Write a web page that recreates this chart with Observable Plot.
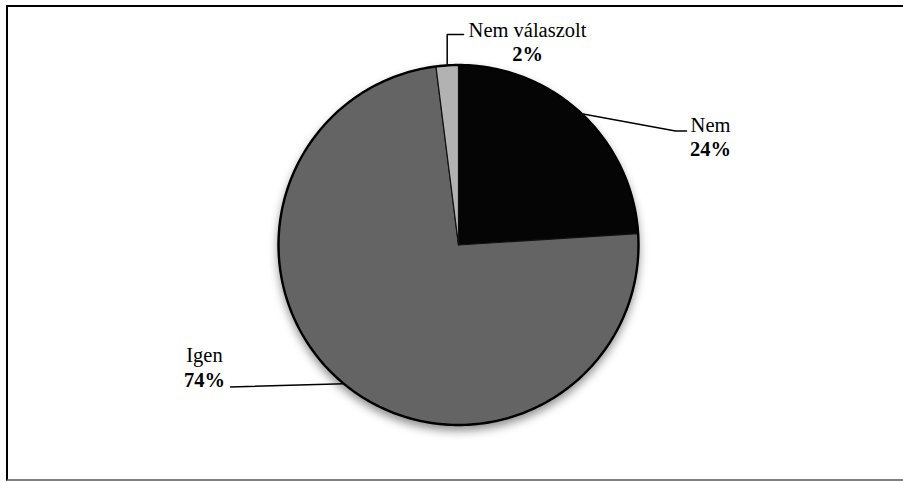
<!DOCTYPE html>
<html><head><meta charset="utf-8">
<script src="https://cdn.jsdelivr.net/npm/d3@7"></script>
<script src="https://cdn.jsdelivr.net/npm/@observablehq/plot@0.6"></script>
<style>
body{margin:0;background:#fff;}
#wrap{position:relative;width:903px;height:482px;overflow:hidden;}
#border{position:absolute;left:6px;top:5px;width:910px;height:472px;border-top:2px solid #000;border-left:2px solid #000;border-bottom:2px solid #808080;pointer-events:none;}
svg text{font-family:"Liberation Serif","Times New Roman","DejaVu Serif",serif !important;}
</style></head><body>
<div id="wrap"><div id="chart"></div><div id="border"></div></div>
<script>
// ---- data ----
const categories = ["Nem", "Igen", "Nem válaszolt"];
const values = [24, 74, 2];
const percentLabels = ["24%", "74%", "2%"];
const colors = ["#050505", "#646464", "#b2b2b2"];

// ---- layout ----
const W = 903, H = 482, cx = 458, cy = 244.5, R = 180;
const toU = (px, py) => ({x: (px - cx) / R, y: (cy - py) / R});

const arcs = d3.pie().sort(null).value(d => d)(values);
const slicePts = [];
arcs.forEach((a, i) => {
  slicePts.push({cat: categories[i], x: 0, y: 0});
  const n = Math.max(4, Math.ceil((a.endAngle - a.startAngle) * 60));
  for (let k = 0; k <= n; k++) {
    const t = a.startAngle + (a.endAngle - a.startAngle) * k / n;
    slicePts.push({cat: categories[i], x: Math.sin(t), y: Math.cos(t)});
  }
});
const mid = arcs.map(a => {
  const t = (a.startAngle + a.endAngle) / 2;
  return {x: Math.sin(t), y: Math.cos(t)};
});
// outer rim
const rim = d3.range(0, 361).map(d => ({x: Math.sin(d * Math.PI / 180), y: Math.cos(d * Math.PI / 180)}));

// label anchors (pixel layout) and leader lines
const labelPos = [
  {name: toU(710, 131.5), pct: toU(710, 155.5)},
  {name: toU(204, 361.5), pct: toU(204, 386)},
  {name: toU(527, 36), pct: toU(527, 60)}
];
const leaders = [];
const addL = (i, pts) => pts.forEach(p => leaders.push({cat: categories[i], ...p}));
addL(0, [mid[0], toU(675, 130.5), toU(686, 130.5)]);
addL(1, [mid[1], toU(230, 386.5)]);
addL(2, [mid[2], {x: mid[2].x, y: toU(0, 34).y}, toU(463, 34)]);

const labels = categories.map((c, i) => ({cat: c, pct: percentLabels[i], nx: labelPos[i].name.x, ny: labelPos[i].name.y, px: labelPos[i].pct.x, py: labelPos[i].pct.y}));

const chart = Plot.plot({
  width: W, height: H, margin: 0,
  style: {background: "transparent", fontFamily: "Liberation Serif"},
  x: {domain: [-cx / R, (W - cx) / R], axis: null},
  y: {domain: [-(H - cy) / R, cy / R], axis: null},
  color: {domain: categories, range: colors},
  marks: [
    Plot.line(slicePts, {x: "x", y: "y", z: "cat", fill: "cat", stroke: "#111", strokeWidth: 1.2, strokeLinejoin: "round", curve: "linear-closed"}),
    Plot.line(rim, {x: "x", y: "y", stroke: "#000", strokeWidth: 2.4}),
    Plot.line(leaders, {x: "x", y: "y", z: "cat", stroke: "#000", strokeWidth: 1.5}),
    Plot.text(labels, {x: "nx", y: "ny", text: "cat", lineAnchor: "bottom", fontFamily: "Liberation Serif", fontSize: 20.5, fill: "#000"}),
    Plot.text(labels, {x: "px", y: "py", text: "pct", lineAnchor: "bottom", fontFamily: "Liberation Serif", fontSize: 20.5, fontWeight: "bold", fill: "#000"})
  ]
});
document.getElementById("chart").appendChild(chart);
const g = chart.querySelector('g[aria-label="line"]');
if (g) g.style.filter = "drop-shadow(0px 5px 5px rgba(0,0,0,0.45))";
</script>
</body></html>
